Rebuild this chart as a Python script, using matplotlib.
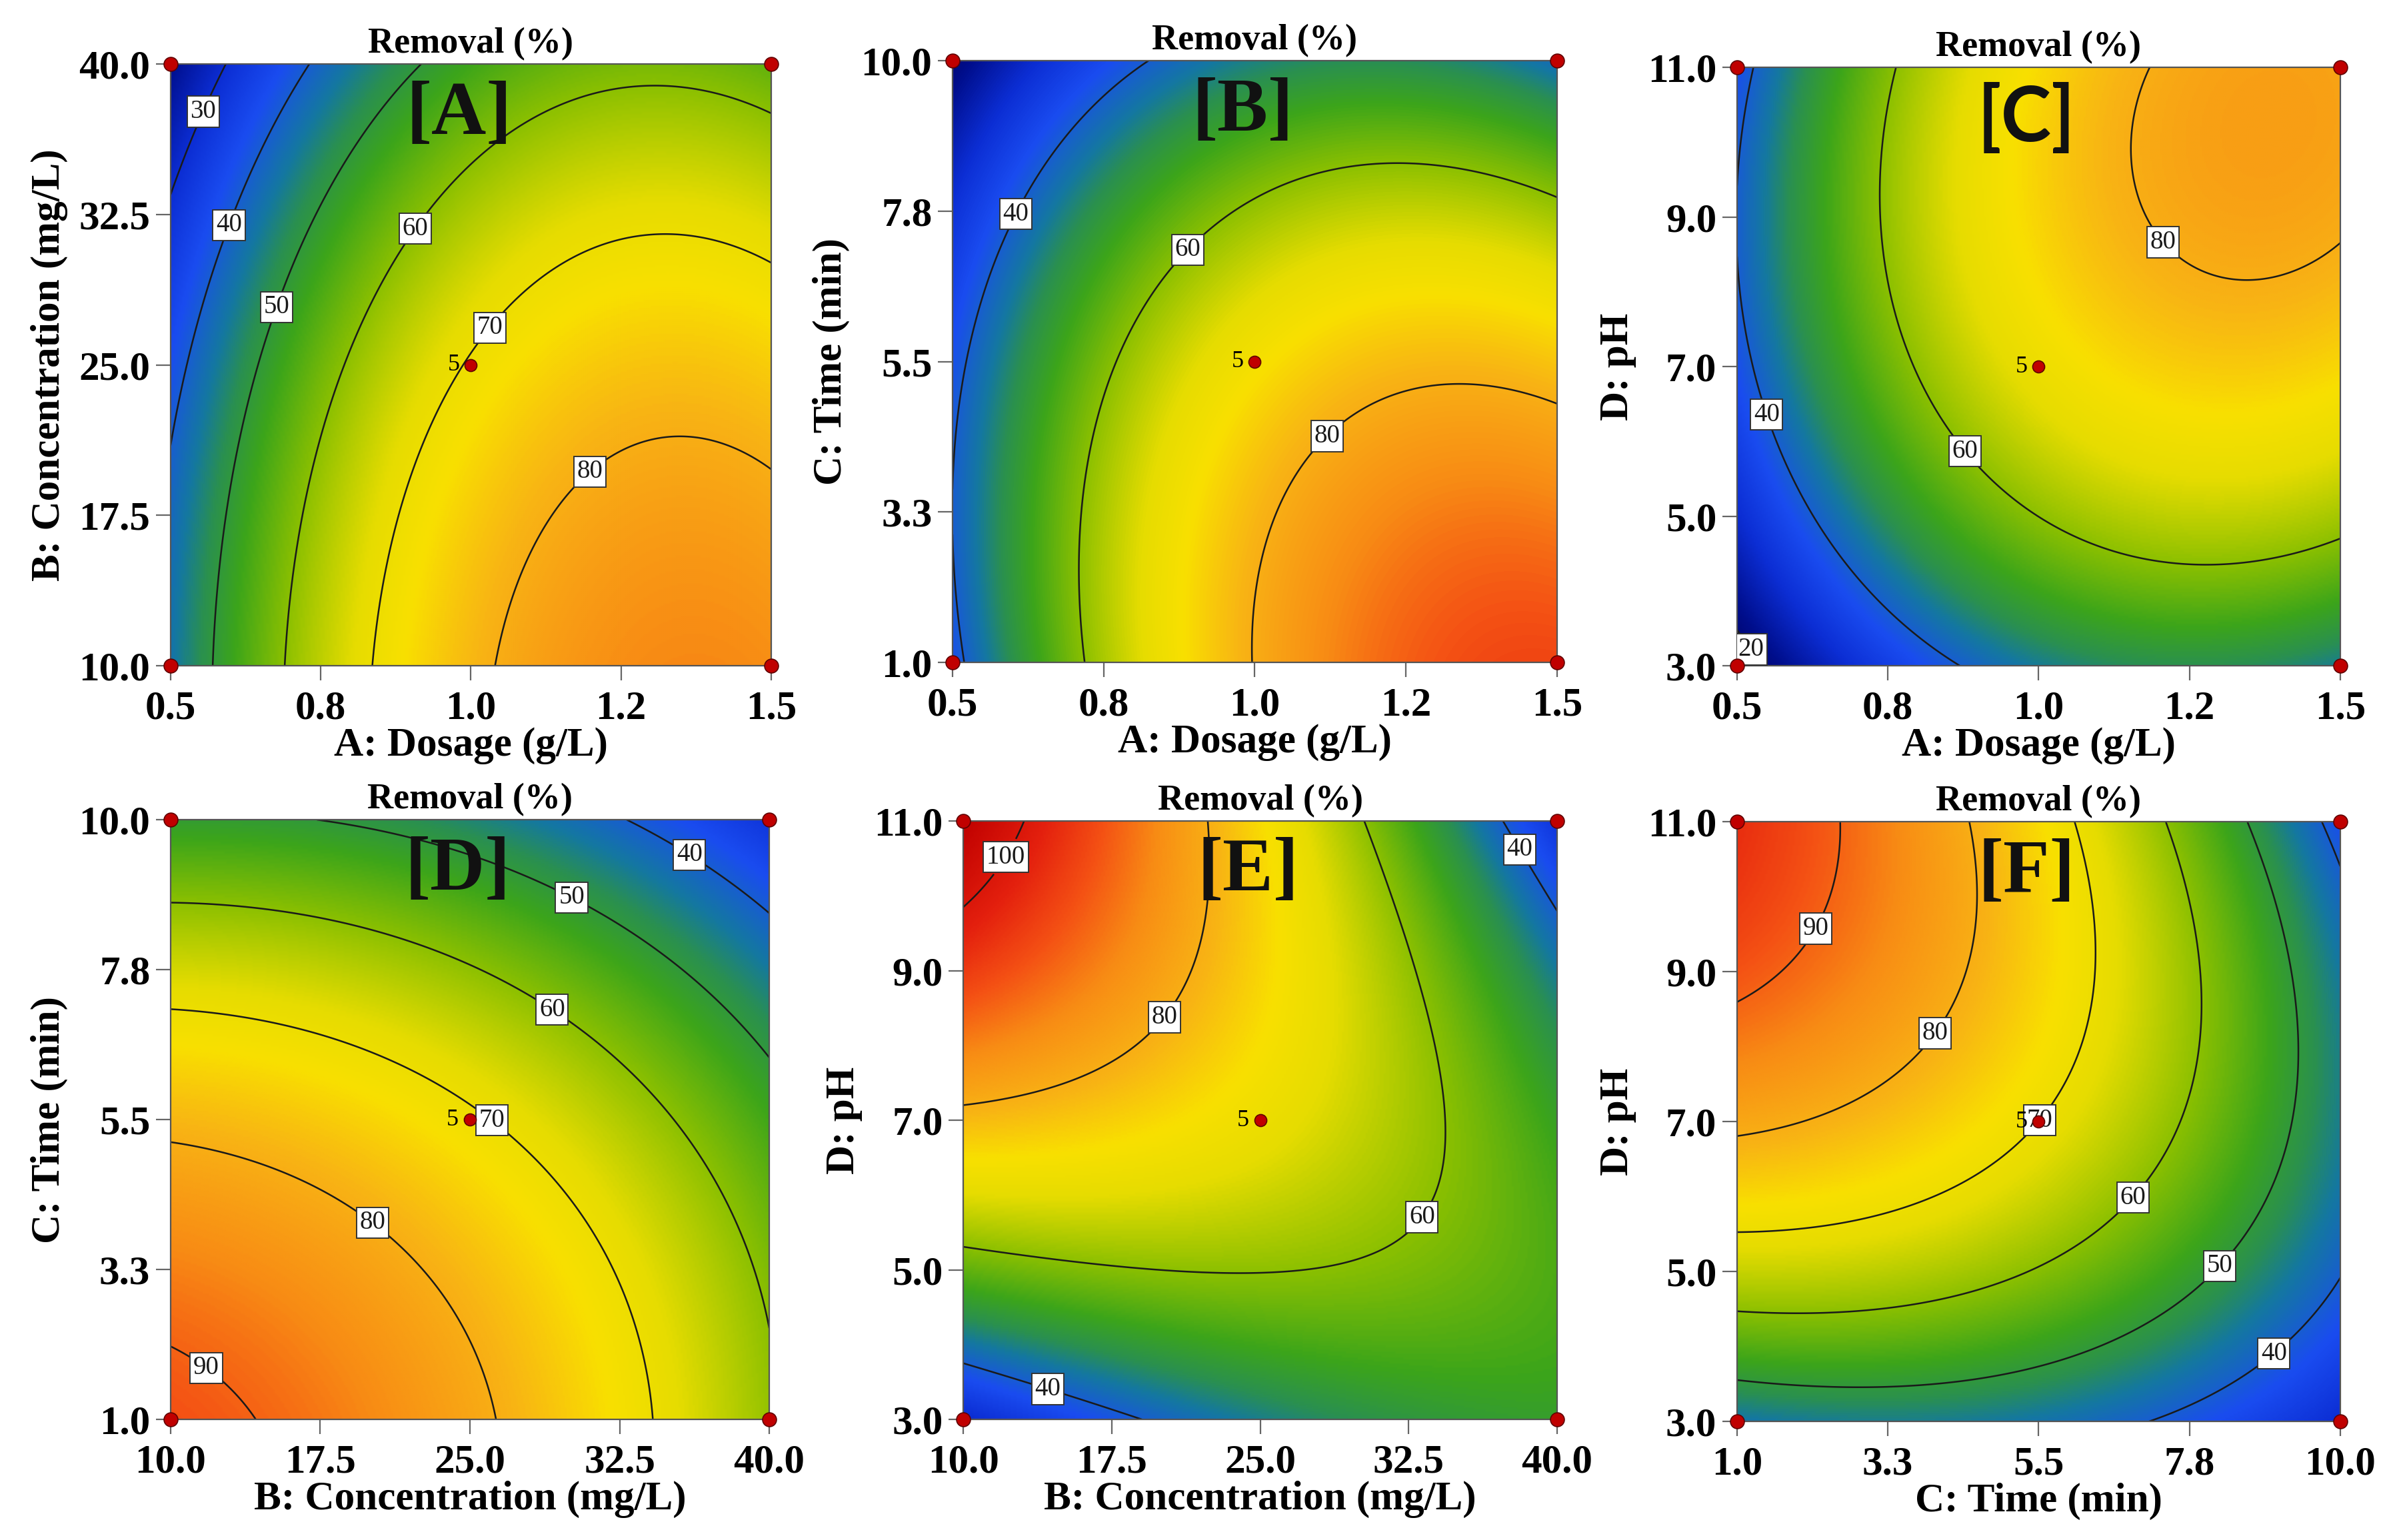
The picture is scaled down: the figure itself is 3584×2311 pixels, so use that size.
import numpy as np
import matplotlib.pyplot as plt
from matplotlib.colors import LinearSegmentedColormap

# factor ranges (low, high)
dosage_range = (0.5, 1.5)
conc_range = (10.0, 40.0)
time_range = (1.0, 10.0)
ph_range = (3.0, 11.0)

# tick labels (five equally spaced ticks per axis)
dosage_ticks = ["0.5", "0.8", "1.0", "1.2", "1.5"]
conc_ticks = ["10.0", "17.5", "25.0", "32.5", "40.0"]
time_ticks = ["1.0", "3.3", "5.5", "7.8", "10.0"]
ph_ticks = ["3.0", "5.0", "7.0", "9.0", "11.0"]

dosage_label = "A: Dosage (g/L)"
conc_label = "B: Concentration (mg/L)"
time_label = "C: Time (min)"
ph_label = "D: pH"

# quadratic response surface terms in coded units: b0, bx, by, bxy, bxx, byy
coef_A = [70.5, 19.0, -12.6, -2.0, -14.0, -4.7]
coef_B = [72.0, 19.4, -17.25, -8.25, -14.8, -9.0]
coef_C = [70.0, 18.3, 14.5, 4.0, -14.1, -10.8]
coef_D = [70.9, -12.6, -17.5, 3.0, -5.0, -7.0]
coef_E = [70.0, -13.0, 14.2, -24.1, -4.9, -10.6]
coef_F = [70.0, -18.1, 15.1, -11.3, -6.8, -11.5]

levels_A = [30, 40, 50, 60, 70, 80]
levels_B = [40, 60, 80]
levels_C = [20, 40, 60, 80]
levels_D = [40, 50, 60, 70, 80, 90]
levels_E = [40, 60, 80, 100]
levels_F = [40, 50, 60, 70, 80, 90]

center_runs = 5

# contour label spots (coded units)
lab_A = [(-0.91, 0.85), (-0.82, 0.47), (-0.67, 0.20), (-0.21, 0.47), (0.03, 0.15), (0.35, -0.30)]
lab_B = [(-0.81, 0.50), (-0.22, 0.37), (0.25, -0.26)]
lab_C = [(-0.92, -0.92), (-0.90, -0.16), (-0.24, -0.28), (0.36, 0.37)]
lab_D = [(0.75, 0.91), (0.36, 0.78), (0.29, 0.39), (0.09, 0.02), (-0.30, -0.31), (-0.86, -0.80)]
lab_E = [(-0.89, 0.90), (-0.33, 0.35), (0.58, -0.35), (-0.70, -0.85), (0.90, 0.92)]
lab_F = [(-0.75, 0.65), (-0.35, 0.30), (0.02, -0.01), (0.32, -0.26), (0.62, -0.50), (0.81, -0.81)]

# colour scale of the response (Removal %)
cmap_values = [15, 22, 30, 37, 44, 48, 53, 60, 68, 73, 79, 86, 92, 98, 106]
cmap_colors = ["#00005a", "#000e8c", "#0c2ed4", "#1a4cf0", "#1478a0", "#2a9050",
               "#3ca51a", "#8cc000", "#e6dc00", "#f8e000", "#f8b414", "#f88c14",
               "#f45014", "#e4200e", "#c00000"]

vmin, vmax = cmap_values[0], cmap_values[-1]
cmap = LinearSegmentedColormap.from_list(
    "removal", [((v - vmin) / (vmax - vmin), c) for v, c in zip(cmap_values, cmap_colors)])

SERIF = "Liberation Serif"
plt.rcParams["font.family"] = SERIF
plt.rcParams["font.weight"] = "bold"

panels = [
    ("[A]", dosage_range, conc_range, dosage_ticks, conc_ticks, dosage_label, conc_label, coef_A, levels_A, lab_A),
    ("[B]", dosage_range, time_range, dosage_ticks, time_ticks, dosage_label, time_label, coef_B, levels_B, lab_B),
    ("[C]", dosage_range, ph_range, dosage_ticks, ph_ticks, dosage_label, ph_label, coef_C, levels_C, lab_C),
    ("[D]", conc_range, time_range, conc_ticks, time_ticks, conc_label, time_label, coef_D, levels_D, lab_D),
    ("[E]", conc_range, ph_range, conc_ticks, ph_ticks, conc_label, ph_label, coef_E, levels_E, lab_E),
    ("[F]", time_range, ph_range, time_ticks, ph_ticks, time_label, ph_label, coef_F, levels_F, lab_F),
]

# axes rectangles in figure fractions
rects = [
    [0.0714, 0.5677, 0.2514, 0.3907],
    [0.3987, 0.5699, 0.2531, 0.3907],
    [0.7271, 0.5677, 0.2525, 0.3886],
    [0.0714, 0.0783, 0.2506, 0.3894],
    [0.4032, 0.0783, 0.2486, 0.3886],
    [0.7271, 0.0770, 0.2525, 0.3894],
]

fig = plt.figure(figsize=(17.92, 11.555), dpi=200)

for (tag, xr, yr, xt, yt, xl, yl, coef, levels, labpos), rect in zip(panels, rects):
    ax = fig.add_axes(rect)
    xs = np.linspace(xr[0], xr[1], 301)
    ys = np.linspace(yr[0], yr[1], 301)
    X, Y = np.meshgrid(xs, ys)
    xm, xh = (xr[0] + xr[1]) / 2, (xr[1] - xr[0]) / 2
    ym, yh = (yr[0] + yr[1]) / 2, (yr[1] - yr[0]) / 2
    u = (X - xm) / xh
    v = (Y - ym) / yh
    b0, bx, by, bxy, bxx, byy = coef
    Z = b0 + bx * u + by * v + bxy * u * v + bxx * u ** 2 + byy * v ** 2

    ax.imshow(Z, origin="lower", extent=[xr[0], xr[1], yr[0], yr[1]], aspect="auto",
              cmap=cmap, vmin=vmin, vmax=vmax, interpolation="bilinear")
    cs = ax.contour(X, Y, Z, levels=levels, colors="#1a1a1a", linewidths=0.9)
    spots = [(xm + p * xh, ym + q * yh) for p, q in labpos]
    texts = ax.clabel(cs, fmt="%d", manual=spots, inline=True, inline_spacing=2, fontsize=14)
    for t in texts:
        t.set_rotation(0)
        t.set_fontweight("normal")
        t.set_family(SERIF)
        t.set_bbox(dict(boxstyle="square,pad=0.12", fc="white", ec="#333333", lw=0.7))

    # design points: factorial corners and centre
    ax.plot([xr[0], xr[1], xr[0], xr[1]], [yr[0], yr[0], yr[1], yr[1]], "o", ms=7.5,
            color="#c00000", mec="#600000", mew=0.6, clip_on=False, zorder=6)
    ax.plot([xm], [ym], "o", ms=6.5, color="#c00000", mec="#600000", mew=0.6, zorder=6)
    ax.annotate(str(center_runs), (xm, ym), xytext=(-6, 0), textcoords="offset points",
                ha="right", va="center", fontsize=13, fontweight="normal", zorder=5)

    ax.set_xlim(xr)
    ax.set_ylim(yr)
    ax.set_xticks(np.linspace(xr[0], xr[1], 5))
    ax.set_xticklabels(xt)
    ax.set_yticks(np.linspace(yr[0], yr[1], 5))
    ax.set_yticklabels(yt)
    ax.tick_params(axis="both", direction="out", length=8, width=0.8, color="#666666",
                   labelsize=22)
    ax.tick_params(axis="x", pad=5)
    ax.tick_params(axis="y", pad=3)
    for sp in ax.spines.values():
        sp.set_color("#555555")
        sp.set_linewidth(0.8)

    ax.set_xlabel(xl, fontsize=22, fontweight="bold", labelpad=0)
    ax.set_ylabel(yl, fontsize=22, fontweight="bold", labelpad=6)
    ax.set_title("Removal (%)", fontsize=19.5, fontweight="bold", pad=6)

    tag_font = "Lato" if tag == "[C]" else SERIF
    ax.text(0.48, 0.915, tag, transform=ax.transAxes, ha="center", va="center",
            fontsize=41, fontweight="bold", family=tag_font, color="#111111", zorder=7)

fig.savefig("out.png", dpi=200)
